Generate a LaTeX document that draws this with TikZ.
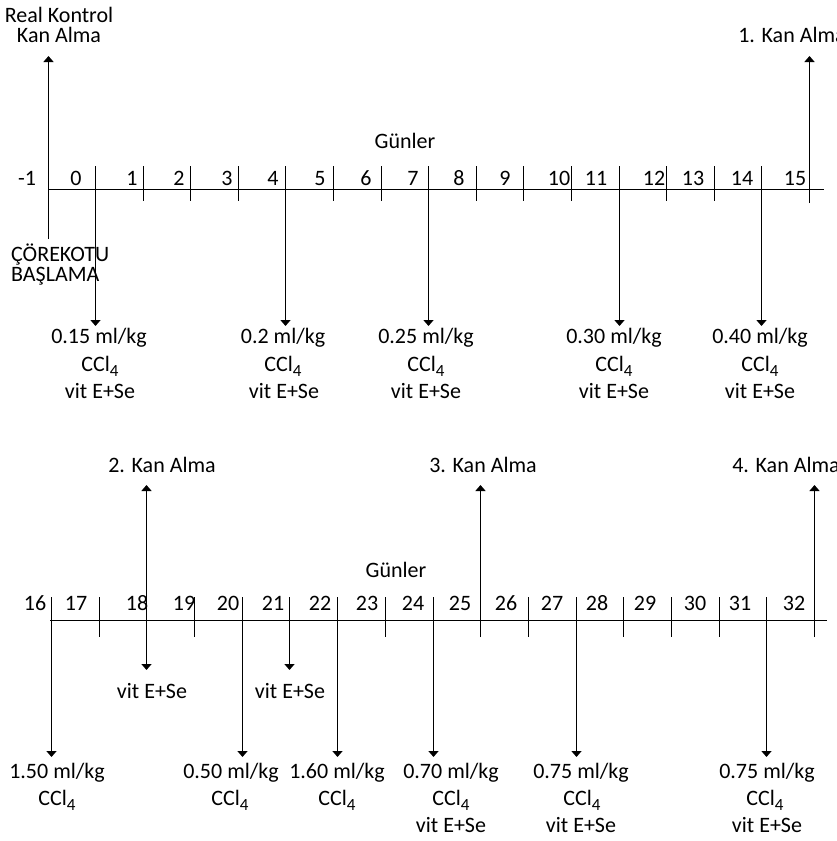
\documentclass[tikz,border=0pt]{standalone}
\usepackage{fontspec}
\setmainfont{Carlito}
\usetikzlibrary{arrows.meta}
\newcommand\cclfour{CCl\raisebox{-5pt}{\fontsize{17}{17}\selectfont 4}}
\begin{document}
\begin{tikzpicture}[x=1pt,y=-1pt,
  lbl/.style={font=\fontsize{22}{24}\selectfont, inner sep=0pt, anchor=base},
  lblw/.style={lbl, anchor=base west},
  ln/.style={line width=1.4pt, line cap=butt},
  arr/.style={ln, -{Triangle[width=10pt,length=6pt]}},
  darr/.style={ln, {Triangle[width=10pt,length=6pt]}-{Triangle[width=10pt,length=6pt]}}]
\useasboundingbox (0,0) rectangle (837,841);

% ---------------- top axis ----------------
\coordinate (tA) at (48,189.5);
\coordinate (tB) at (824,189.5);
\draw[ln] (tA) -- (tB);
\foreach \k in {0,...,15} {
  \pgfmathsetmacro{\xx}{round(95+47.6*\k)+0.5}
  \coordinate (tt\k) at (\xx,166);
  \coordinate (tb\k) at (\xx,201);
  \coordinate (td\k) at (\xx,326);
  \coordinate (tu\k) at (\xx,203);
  \coordinate (tv\k) at (\xx,56);
}
\foreach \k in {1,2,3,5,6,8,9,10,12,13} \draw[ln] (tt\k) -- (tb\k);
\foreach \k in {0,4,7,11,14} \draw[arr] (tt\k) -- (td\k);
\draw[arr] (tu15) -- (tv15);
\coordinate (tm1a) at (48.5,239);
\coordinate (tm1b) at (48.5,56);
\draw[arr] (tm1a) -- (tm1b);

\foreach \t/\x [count=\i] in {-1/27,0/76,1/132,2/179,3/227,4/273,5/320,6/366,7/413,8/459,9/505,10/559,11/596,12/654,13/693,14/742,15/795}
  \node[lbl] (tn\i) at (\x,185) {\t};

\node[lbl] (gun1) at (405,148) {Günler};
\node[lbl] (rk1) at (59,22) {Real Kontrol};
\node[lbl] (rk2) at (59,42) {Kan Alma};
\node[lbl] (ka1) at (792,42) {1. Kan Alma};
\node[lblw] (cb1) at (11,261) {ÇÖREKOTU};
\node[lblw] (cb2) at (11,281) {BAŞLAMA};

\node[lbl] (d0a) at (99,343) {0.15 ml/kg};
\node[lbl] (d0b) at (100,371) {\cclfour};
\node[lbl] (d0c) at (100,398) {vit E+Se};
\node[lbl] (d4a) at (283,343) {0.2 ml/kg};
\node[lbl] (d4b) at (283,371) {\cclfour};
\node[lbl] (d4c) at (284,398) {vit E+Se};
\node[lbl] (d7a) at (426,343) {0.25 ml/kg};
\node[lbl] (d7b) at (426,371) {\cclfour};
\node[lbl] (d7c) at (426,398) {vit E+Se};
\node[lbl] (d11a) at (614,343) {0.30 ml/kg};
\node[lbl] (d11b) at (614,371) {\cclfour};
\node[lbl] (d11c) at (614,398) {vit E+Se};
\node[lbl] (d14a) at (760,343) {0.40 ml/kg};
\node[lbl] (d14b) at (760,371) {\cclfour};
\node[lbl] (d14c) at (760,398) {vit E+Se};

% ---------------- bottom axis ----------------
\coordinate (bA) at (50,620.5);
\coordinate (bB) at (827,620.5);
\draw[ln] (bA) -- (bB);
\foreach \k in {0,...,16} {
  \pgfmathsetmacro{\xx}{round(51+47.69*\k)+0.5}
  \coordinate (bt\k) at (\xx,597);
  \coordinate (bb\k) at (\xx,637);
  \coordinate (bd\k) at (\xx,757);
  \coordinate (bs\k) at (\xx,670);
  \coordinate (bu\k) at (\xx,485);
}
\foreach \k in {1,3,7,10,12,13,14} \draw[ln] (bt\k) -- (bb\k);
\foreach \k in {0,4,6,8,11,15} \draw[arr] (bt\k) -- (bd\k);
\draw[arr] (bt5) -- (bs5);
\draw[darr] (bu2) -- (bs2);
\foreach \k in {9,16} \draw[arr] (bb\k) -- (bu\k);

\foreach \t/\x in {16/35,17/76,18/137,19/184,20/228,21/273,22/320,23/367,24/413,25/460,26/506,27/552,28/597,29/645,30/695,31/740,32/794}
  \node[lbl] (bn\t) at (\x,610) {\t};

\node[lbl] (gun2) at (396,577) {Günler};
\node[lbl] (ka2) at (162,472) {2. Kan Alma};
\node[lbl] (ka3) at (483,472) {3. Kan Alma};
\node[lbl] (ka4) at (786,472) {4. Kan Alma};
\node[lbl] (v18) at (152,698) {vit E+Se};
\node[lbl] (v21) at (290,698) {vit E+Se};

\node[lbl] (e16a) at (57,778) {1.50 ml/kg};
\node[lbl] (e16b) at (57,805) {\cclfour};
\node[lbl] (e20a) at (231,778) {0.50 ml/kg};
\node[lbl] (e20b) at (230,805) {\cclfour};
\node[lbl] (e22a) at (337,778) {1.60 ml/kg};
\node[lbl] (e22b) at (337,805) {\cclfour};
\node[lbl] (e24a) at (451,778) {0.70 ml/kg};
\node[lbl] (e24b) at (451,805) {\cclfour};
\node[lbl] (e24c) at (451,832) {vit E+Se};
\node[lbl] (e27a) at (581,778) {0.75 ml/kg};
\node[lbl] (e27b) at (582,805) {\cclfour};
\node[lbl] (e27c) at (581,832) {vit E+Se};
\node[lbl] (e31a) at (767,778) {0.75 ml/kg};
\node[lbl] (e31b) at (765,805) {\cclfour};
\node[lbl] (e31c) at (767,832) {vit E+Se};
\end{tikzpicture}
\end{document}
